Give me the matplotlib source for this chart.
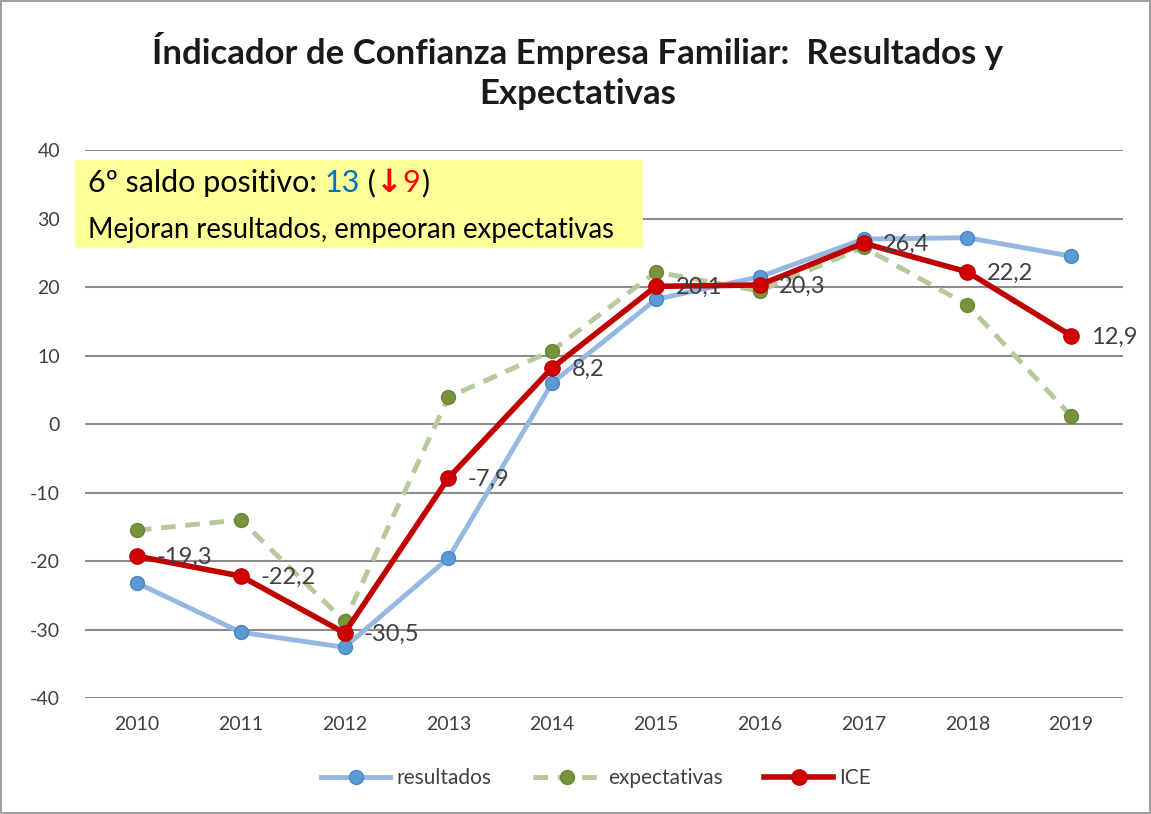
import matplotlib.pyplot as plt
from matplotlib.patches import Rectangle
from matplotlib.offsetbox import TextArea, HPacker, VPacker, AnchoredOffsetbox
import numpy as np

plt.rcParams['font.family'] = ['Lato', 'DejaVu Sans']
plt.rcParams['axes.unicode_minus'] = False

years = ['2010', '2011', '2012', '2013', '2014', '2015', '2016', '2017', '2018', '2019']
resultados = [-23.2, -30.4, -32.6, -19.6, 6.0, 18.2, 21.5, 27.0, 27.2, 24.5]
expectativas = [-15.5, -14.0, -28.8, 3.9, 10.7, 22.2, 19.4, 25.8, 17.4, 1.2]
ice = [-19.3, -22.2, -30.5, -7.9, 8.2, 20.1, 20.3, 26.4, 22.2, 12.9]
ice_labels = ['-19,3', '-22,2', '-30,5', '-7,9', '8,2', '20,1', '20,3', '26,4', '22,2', '12,9']

fig = plt.figure(figsize=(11.51, 8.14), dpi=100)
fig.patch.set_edgecolor('#a0a0a0')
fig.patch.set_linewidth(1.5)
ax = fig.add_axes([0.0739, 0.1425, 0.9757 - 0.0739, 0.8157 - 0.1425])

x = np.arange(len(years))
ax.plot(x, resultados, color='#95B8E3', lw=3.5, marker='o', ms=10,
        mfc='#5B9BD5', mec='#4A86C5', mew=1, label='resultados', zorder=3)
ax.plot(x, expectativas, color='#B5C99A', lw=3.5, ls=(0, (3, 2)), marker='o', ms=10,
        mfc='#77933C', mec='#6A8535', mew=1, label='expectativas', zorder=3)
ax.plot(x, ice, color='#C00000', lw=4, marker='o', ms=11,
        mfc='#D00000', mec='#C00000', label='ICE', zorder=4)

for xi, yi, s in zip(x, ice, ice_labels):
    ax.annotate(s, (xi, yi), xytext=(14, -1), textcoords='offset points',
                ha='left', va='center', fontsize=17, color='#404040', zorder=5)

ax.set_xlim(-0.5, 9.5)
ax.set_ylim(-40, 40)
ax.set_yticks(range(-40, 41, 10))
ax.set_xticks(x)
ax.set_xticklabels(years)
ax.yaxis.grid(True, color='#8c8c8c', lw=1.5)
ax.set_axisbelow(True)
for sp in ax.spines.values():
    sp.set_visible(False)
ax.tick_params(length=0, labelsize=14, colors='#404040')
ax.tick_params(axis='x', pad=13)
ax.tick_params(axis='y', pad=18)

fig.text(0.502, 1 - 71 / 814, 'Índicador de Confianza Empresa Familiar:  Resultados y\nExpectativas',
         ha='center', va='center', fontsize=25, fontweight='bold', color='#1a1a1a',
         linespacing=1.3)

# yellow note box
fig.patches.append(Rectangle((75 / 1151, 1 - 248 / 814), 568 / 1151, 88 / 814,
                             transform=fig.transFigure, facecolor='#FFFF99',
                             edgecolor='none', zorder=6))
f1 = dict(fontsize=22, color='black')
parts = [TextArea('6º saldo positivo: ', textprops=f1),
         TextArea('13', textprops=dict(fontsize=22, color='#0070C0')),
         TextArea(' (', textprops=f1),
         TextArea('↓', textprops=dict(fontsize=23, color='#FF0000', fontweight='bold',
                                      family=['DejaVu Sans'])),
         TextArea('9', textprops=dict(fontsize=22, color='#FF0000')),
         TextArea(')', textprops=f1)]
line1 = HPacker(children=parts, pad=0, sep=0, align='baseline')
line2 = TextArea('Mejoran resultados, empeoran expectativas',
                 textprops=dict(fontsize=19.8, color='black'))
box = VPacker(children=[line1, line2], pad=0, sep=13, align='left')
anch = AnchoredOffsetbox(loc='upper left', child=box, frameon=False,
                         bbox_to_anchor=(88 / 1151, 1 - 168 / 814),
                         bbox_transform=fig.transFigure, borderpad=0, pad=0)
anch.set_zorder(7)
fig.add_artist(anch)

leg = fig.legend(loc='center', bbox_to_anchor=(0.518, 1 - 778 / 814), ncol=3,
                 frameon=False, fontsize=15, handlelength=3.3, columnspacing=2.0,
                 handletextpad=0.3)
for t in leg.get_texts():
    t.set_color('#404040')

fig.savefig('out.png', dpi=100)
